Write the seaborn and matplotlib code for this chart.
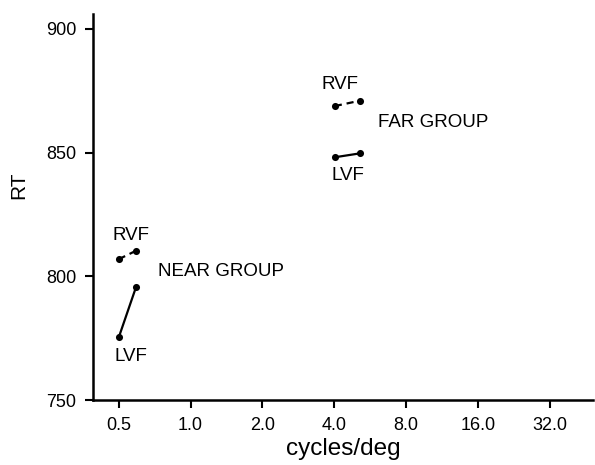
import matplotlib
matplotlib.use("Agg")
import matplotlib.pyplot as plt
import seaborn as sns
import pandas as pd

# ---- data ----
near_x = [0.50, 0.59]
near_rvf = [806.9, 810.3]
near_lvf = [775.3, 795.5]
far_x = [4.02, 5.14]
far_rvf = [868.8, 871.0]
far_lvf = [848.1, 849.7]

x_ticks = [0.5, 1.0, 2.0, 4.0, 8.0, 16.0, 32.0]
x_tick_labels = ["0.5", "1.0", "2.0", "4.0", "8.0", "16.0", "32.0"]
y_ticks = [750, 800, 850, 900]

sns.set_theme(style="ticks")
plt.rcParams["font.family"] = ["Liberation Sans", "DejaVu Sans"]
plt.rcParams["text.color"] = "black"
plt.rcParams["axes.labelcolor"] = "black"

fig = plt.figure(figsize=(5.95, 4.65), dpi=100)
ax = fig.add_axes([93 / 595, 1 - 400 / 465, 500 / 595, (400 - 14) / 465])

segments = [
    ("near", "RVF", near_x, near_rvf),
    ("near", "LVF", near_x, near_lvf),
    ("far", "RVF", far_x, far_rvf),
    ("far", "LVF", far_x, far_lvf),
]
for grp, field, xs, ys in segments:
    df = pd.DataFrame({"freq": xs, "RT": ys})
    ls = (0, (3.2, 2.2)) if field == "RVF" else "-"
    sns.lineplot(data=df, x="freq", y="RT", ax=ax, color="black",
                 linewidth=1.6, linestyle=ls, estimator=None, sort=False)
    sns.scatterplot(data=df, x="freq", y="RT", ax=ax, color="black",
                    s=26, edgecolor="black", linewidth=0, zorder=3)

ax.set_xscale("log", base=2)
ax.set_xlim(0.39, 48.5)
ax.set_ylim(750, 906)
ax.set_xticks(x_ticks)
ax.set_xticklabels(x_tick_labels)
ax.minorticks_off()
ax.set_yticks(y_ticks)

for s in ["top", "right"]:
    ax.spines[s].set_visible(False)
for s in ["left", "bottom"]:
    ax.spines[s].set_linewidth(1.8)
    ax.spines[s].set_color("black")
ax.tick_params(axis="both", direction="out", length=6, width=1.5,
               labelsize=13, colors="black", labelcolor="black", pad=6)

ax.set_xlabel("cycles/deg", fontsize=17.5, labelpad=3, color="black")
ax.set_ylabel("RT", fontsize=15, color="black", va="center")
ax.yaxis.set_label_coords(-0.148, 0.557)

tk = dict(fontsize=13.5, color="black")
ax.text(0.561, 816.3, "RVF", ha="center", va="center", **tk)
ax.text(0.561, 767.4, "LVF", ha="center", va="center", **tk)
ax.text(0.728, 801.9, "NEAR GROUP", ha="left", va="center", **tk)
ax.text(4.22, 877.7, "RVF", ha="center", va="center", **tk)
ax.text(4.58, 840.9, "LVF", ha="center", va="center", **tk)
ax.text(6.1, 862.0, "FAR GROUP", ha="left", va="center", **tk)

fig.savefig("out.png", dpi=100)
